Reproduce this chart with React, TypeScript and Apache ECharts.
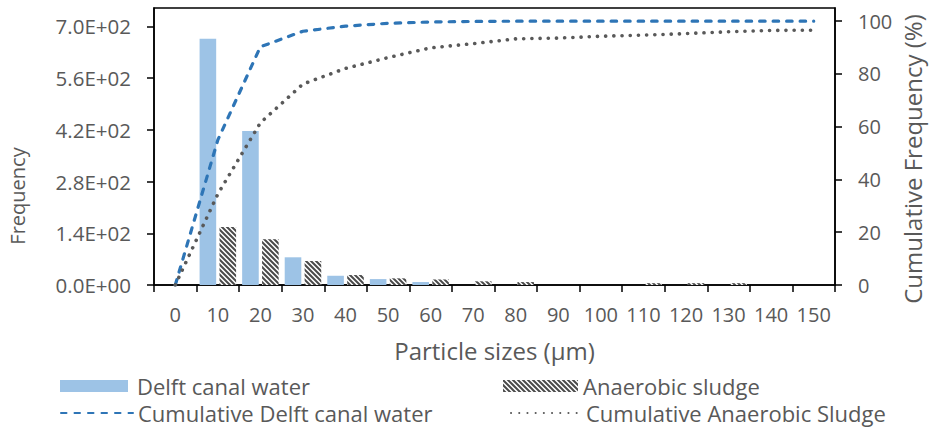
import { useEffect, useRef } from 'react';
import * as echarts from 'echarts';

const categories = ['0', '10', '20', '30', '40', '50', '60', '70', '80', '90', '100', '110', '120', '130', '140', '150'];
const delftFrequency = [0, 667, 417, 75, 25, 16, 8, 0, 0, 0, 0, 0, 0, 0, 0, 0];
const anaerobicFrequency = [0, 157, 124, 65, 27, 18, 15, 10, 8, 0, 0, 5, 5, 5, 0, 0];
const delftCumulative = [0, 55, 90.3, 96.2, 98.1, 99.2, 99.7, 99.9, 100, 100, 100, 100, 100, 100, 100, 100];
const anaerobicCumulative = [0, 34.5, 61.5, 76.2, 82.1, 86.2, 89.9, 91.5, 93.3, 93.6, 94.3, 94.7, 95.3, 96.0, 96.5, 96.6];
const frequencyTicks = [0, 140, 280, 420, 560, 700];
const cumulativeTicks = [0, 20, 40, 60, 80, 100];

const seriesNames = ['Delft canal water', 'Anaerobic sludge', 'Cumulative Delft canal water', 'Cumulative Anaerobic Sludge'];

const FONT = "'Open Sans', sans-serif";
const GREY = '#595959';

function makeHatch(): HTMLCanvasElement {
  const s = 10;
  const c = document.createElement('canvas');
  c.width = s;
  c.height = s;
  const ctx = c.getContext('2d')!;
  ctx.fillStyle = '#ffffff';
  ctx.fillRect(0, 0, s, s);
  ctx.strokeStyle = '#4a4a4a';
  ctx.lineWidth = 2;
  ctx.beginPath();
  for (const o of [-10, -5, 0, 5, 10]) {
    ctx.moveTo(o - 1, -1);
    ctx.lineTo(o + s + 1, s + 1);
  }
  ctx.stroke();
  return c;
}

function sci(v: number): string {
  const [m, e] = v.toExponential(1).split('e');
  const n = parseInt(e, 10);
  return m + 'E' + (n < 0 ? '-' : '+') + String(Math.abs(n)).padStart(2, '0');
}

export default function App() {
  const ref = useRef<HTMLDivElement>(null);
  useEffect(() => {
    if (!ref.current) return;
    const chart = echarts.init(ref.current, undefined, { renderer: 'svg' });
    const hatch = { image: makeHatch(), repeat: 'repeat', imageWidth: 10, imageHeight: 10 } as any;
    const legendText = { fontFamily: FONT, fontSize: 22, color: GREY };
    chart.setOption({
      animation: false,
      textStyle: { fontFamily: FONT },
      grid: { left: 154, right: 95, top: 8, bottom: 146, show: true, borderColor: '#000', borderWidth: 1.5, containLabel: false },
      legend: [
        { data: [seriesNames[0]], left: 60, top: 375, padding: 0, itemWidth: 68, itemHeight: 12, icon: 'rect', textStyle: { ...legendText, padding: [0, 0, 0, 4] } },
        { data: [seriesNames[1]], left: 503, top: 375, padding: 0, itemWidth: 75, itemHeight: 12, icon: 'rect', textStyle: legendText },
        { data: [seriesNames[2]], left: 60, top: 402, padding: 0, itemWidth: 72, itemHeight: 4, itemStyle: { opacity: 0 }, textStyle: legendText },
        { data: [seriesNames[3]], left: 510, top: 402, padding: 0, itemWidth: 70, itemHeight: 4, itemStyle: { opacity: 0 }, textStyle: legendText },
      ],
      graphic: [
        { type: 'text', x: 17, y: 196, rotation: Math.PI / 2, style: { text: 'Frequency', fontFamily: FONT, fontSize: 20, fill: GREY, align: 'center', verticalAlign: 'middle' } },
        { type: 'text', x: 912, y: 159, rotation: Math.PI / 2, style: { text: 'Cumulative Frequency (%)', fontFamily: FONT, fontSize: 24, fill: GREY, align: 'center', verticalAlign: 'middle' } },
      ],
      xAxis: {
        type: 'category',
        data: categories,
        boundaryGap: true,
        name: 'Particle sizes (µm)',
        nameLocation: 'middle',
        nameGap: 53,
        nameTextStyle: { fontFamily: FONT, fontSize: 24, color: GREY },
        axisLine: { lineStyle: { color: '#000', width: 1.5 } },
        axisTick: { show: true, length: 7, lineStyle: { color: '#000', width: 1.5 } },
        axisLabel: { color: GREY, fontFamily: FONT, fontSize: 20, margin: 19, interval: 0 },
        splitLine: { show: false },
      },
      yAxis: [
        {
          type: 'value',
          min: 0,
          max: 750,
          interval: 140,
          position: 'left',
          axisLine: { show: true, lineStyle: { color: '#000', width: 1.5 } },
          axisTick: { show: true, length: 7, customValues: frequencyTicks, lineStyle: { color: '#000', width: 1.5 } },
          axisLabel: { color: GREY, fontFamily: FONT, fontSize: 20.5, margin: 23, customValues: frequencyTicks, formatter: (v: number) => sci(v) },
          splitLine: { show: false },
        },
        {
          type: 'value',
          min: 0,
          max: 105,
          interval: 20,
          position: 'right',
          axisLine: { show: true, lineStyle: { color: '#000', width: 1.5 } },
          axisTick: { show: true, length: 7, customValues: cumulativeTicks, lineStyle: { color: '#000', width: 1.5 } },
          axisLabel: { color: GREY, fontFamily: FONT, fontSize: 20, margin: 23, customValues: cumulativeTicks },
          splitLine: { show: false },
        },
      ],
      series: [
        {
          name: seriesNames[0],
          type: 'bar',
          data: delftFrequency,
          barWidth: '39%',
          barGap: '20%',
          itemStyle: { color: '#9DC3E6' },
        },
        {
          name: seriesNames[1],
          type: 'bar',
          data: anaerobicFrequency,
          barWidth: '39%',
          barGap: '20%',
          itemStyle: { color: hatch },
        },
        {
          name: seriesNames[2],
          type: 'line',
          yAxisIndex: 1,
          data: delftCumulative,
          symbol: 'none',
          showSymbol: false,
          lineStyle: { color: '#2E75B6', width: 3.2, type: [5.5, 8], cap: 'round' },
          itemStyle: { color: '#2E75B6' },
        },
        {
          name: seriesNames[3],
          type: 'line',
          yAxisIndex: 1,
          data: anaerobicCumulative,
          symbol: 'none',
          showSymbol: false,
          lineStyle: { color: GREY, width: 3.6, type: [0.1, 8.1], cap: 'round' },
          itemStyle: { color: GREY },
        },
      ],
    });
    return () => chart.dispose();
  }, []);
  return <div ref={ref} style={{ position: 'absolute', left: 0, top: 0, width: 930, height: 431 }} />;
}
